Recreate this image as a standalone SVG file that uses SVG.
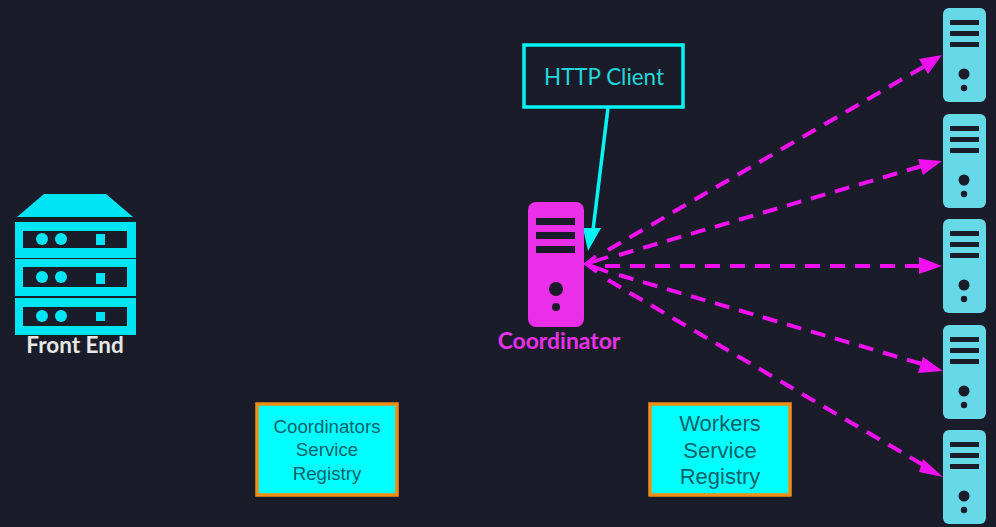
<svg xmlns="http://www.w3.org/2000/svg" width="996" height="527" viewBox="0 0 996 527">
<style>
.lato{font-family:Lato,"Liberation Sans",sans-serif}
.reg{font-family:"Liberation Sans",Arial,sans-serif;fill:#03636a;text-anchor:middle}
.worker{fill:#66d9e8}
.dark{fill:#1a1d29}
.cy{fill:#00e5f5}
.box{fill:#00ffff;stroke:#f28c14;stroke-width:3.5}
.dash{stroke:#f010f0;stroke-width:4;fill:none;stroke-dasharray:15 10}
.head{fill:#f010f0}
</style>
<defs>
<g id="tower">
<rect class="worker" x="943" y="8" width="43" height="94" rx="6"/>
<rect class="dark" x="950" y="20" width="29" height="5"/>
<rect class="dark" x="950" y="31" width="29" height="5"/>
<rect class="dark" x="950" y="42" width="29" height="5"/>
<circle class="dark" cx="964" cy="74" r="5.5"/>
<circle class="dark" cx="964" cy="88" r="3.2"/>
</g>
</defs>
<rect width="996" height="527" fill="#1a1d29"/>
<g id="connectors">
<line x1="608" y1="108" x2="593" y2="230" stroke="#00f5f5" stroke-width="3.5"/>
<polygon points="583,228 601,228 588,251" fill="#00f5f5"/>
<g class="dash">
<line x1="608" y1="250" x2="925" y2="66"/>
<line x1="619" y1="255" x2="922" y2="166"/>
<line x1="605" y1="266" x2="922" y2="266"/>
<line x1="619" y1="275" x2="922" y2="364"/>
<line x1="608" y1="280" x2="925" y2="466"/>
</g>
<g class="head">
<polygon points="942,55 919,59 928,74"/>
<polygon points="942,161 918,159 923,175"/>
<polygon points="942,266 919,257 919,274"/>
<polygon points="943,371 923,357 918,373"/>
<polygon points="943,477 923,459 919,472"/>
</g>
<g fill="none" stroke="#f010f0" stroke-width="3.5">
<path d="M596,256 L586,264 L597,272"/>
<path d="M586,264 L608,257"/>
<path d="M586,264 L608,272"/>
</g>
</g>
<g id="front-end">
<polygon class="cy" points="17,217 44,194 106,194 133,217"/>
<rect class="cy" x="15" y="222" width="121" height="36"/>
<rect class="cy" x="15" y="259" width="121" height="37"/>
<rect class="cy" x="15" y="298" width="121" height="37"/>
<rect class="dark" x="23" y="231" width="104" height="17"/>
<rect class="dark" x="23" y="267" width="104" height="20"/>
<rect class="dark" x="23" y="307" width="104" height="19"/>
<circle class="cy" cx="42" cy="239" r="6"/><circle class="cy" cx="61" cy="239" r="6"/><rect class="cy" x="96" y="234" width="9" height="11"/>
<circle class="cy" cx="42" cy="277" r="6"/><circle class="cy" cx="61" cy="277" r="6"/><rect class="cy" x="96" y="273" width="9" height="11"/>
<circle class="cy" cx="42" cy="316" r="6"/><circle class="cy" cx="61" cy="316" r="6"/><rect class="cy" x="96" y="312" width="9" height="9"/>
<text class="lato" x="75" y="353" font-size="22.5" font-weight="700" fill="#e6e6e6" text-anchor="middle">Front End</text>
</g>
<g id="coordinator">
<rect x="528" y="202" width="56" height="125" rx="8" fill="#e930e8"/>
<rect class="dark" x="536" y="218" width="39" height="7"/>
<rect class="dark" x="536" y="232" width="39" height="7"/>
<rect class="dark" x="536" y="246" width="39" height="7"/>
<circle class="dark" cx="556" cy="289" r="7"/>
<circle class="dark" cx="556" cy="307" r="4"/>
<text class="lato" x="559" y="349" font-size="22.9" font-weight="700" fill="#e930e8" text-anchor="middle">Coordinator</text>
</g>
<g id="http-client">
<rect x="524" y="45" width="159" height="62" fill="none" stroke="#00f5f5" stroke-width="3.5"/>
<text class="lato" x="604" y="85" font-size="22.4" fill="#1fd8de" text-anchor="middle">HTTP Client</text>
</g>
<g id="coordinators-registry">
<rect class="box" x="257" y="404" width="140" height="91"/>
<text class="reg" font-size="18.7"><tspan x="327" y="433">Coordinators</tspan><tspan x="327" y="456">Service</tspan><tspan x="327" y="480">Registry</tspan></text>
</g>
<g id="workers-registry">
<rect class="box" x="650" y="404" width="140" height="91"/>
<text class="reg" font-size="22"><tspan x="720" y="431">Workers</tspan><tspan x="720" y="458">Service</tspan><tspan x="720" y="484">Registry</tspan></text>
</g>
<g id="worker-1"><use href="#tower"/></g>
<g id="worker-2"><use href="#tower" y="106"/></g>
<g id="worker-3"><use href="#tower" y="211"/></g>
<g id="worker-4"><use href="#tower" y="317"/></g>
<g id="worker-5"><use href="#tower" y="422"/></g>
</svg>
